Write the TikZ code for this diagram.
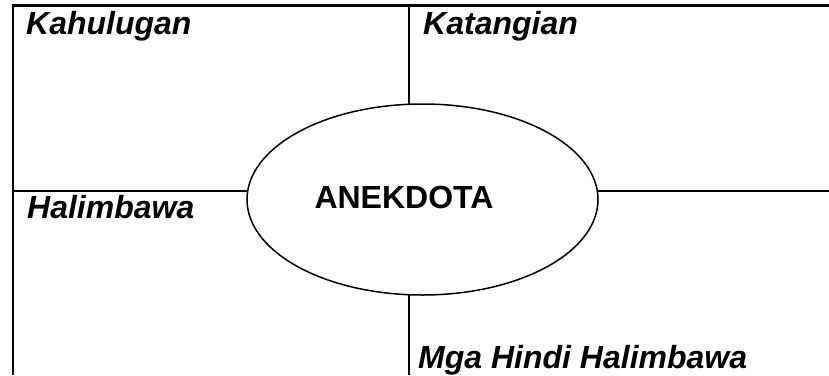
\documentclass[tikz,border=0pt]{standalone}
\usepackage{fontspec}
\setmainfont{Liberation Sans}
\usetikzlibrary{shapes.geometric, positioning}

\begin{document}
\begin{tikzpicture}[x=1pt, y=-1pt,
    grid/.style={line width=2.2pt},
    cornertext/.style={anchor=base west, inner sep=0pt, font=\fontsize{32}{36}\selectfont\bfseries\itshape},
    core/.style={ellipse, draw, line width=1.5pt, fill=white, minimum width=351pt, minimum height=191pt, inner sep=0pt},
    coretext/.style={anchor=base, inner sep=0pt, font=\fontsize{32}{36}\selectfont\bfseries}]
    \useasboundingbox (0,0) rectangle (829,375);

    % Grid corners
    \coordinate (tl) at (13,5.5);
    \coordinate (tr) at (829,5.5);
    \coordinate (bl) at (13,375);
    \coordinate (ml) at (13,191);
    \coordinate (mr) at (829,191);
    \coordinate (tm) at (409,5.5);
    \coordinate (bm) at (409,375);

    % Frame and dividers
    \draw[grid] (bl) -- (tl) -- (tr);
    \draw[grid] (ml) -- (mr);
    \draw[grid] (tm) -- (bm);

    % Centre
    \node[core] (oval) at (422.5,199.5) {};
    \node[coretext] (title) at (404,208) {ANEKDOTA};

    % Cell headings
    \node[cornertext] (meaning) at (26,34) {Kahulugan};
    \node[cornertext] (traits) at (423,34) {Katangian};
    \node[cornertext] (sample) at (27,218) {Halimbawa};
    \node[cornertext] (nonsample) at (418,368) {Mga Hindi Halimbawa};
\end{tikzpicture}
\end{document}
